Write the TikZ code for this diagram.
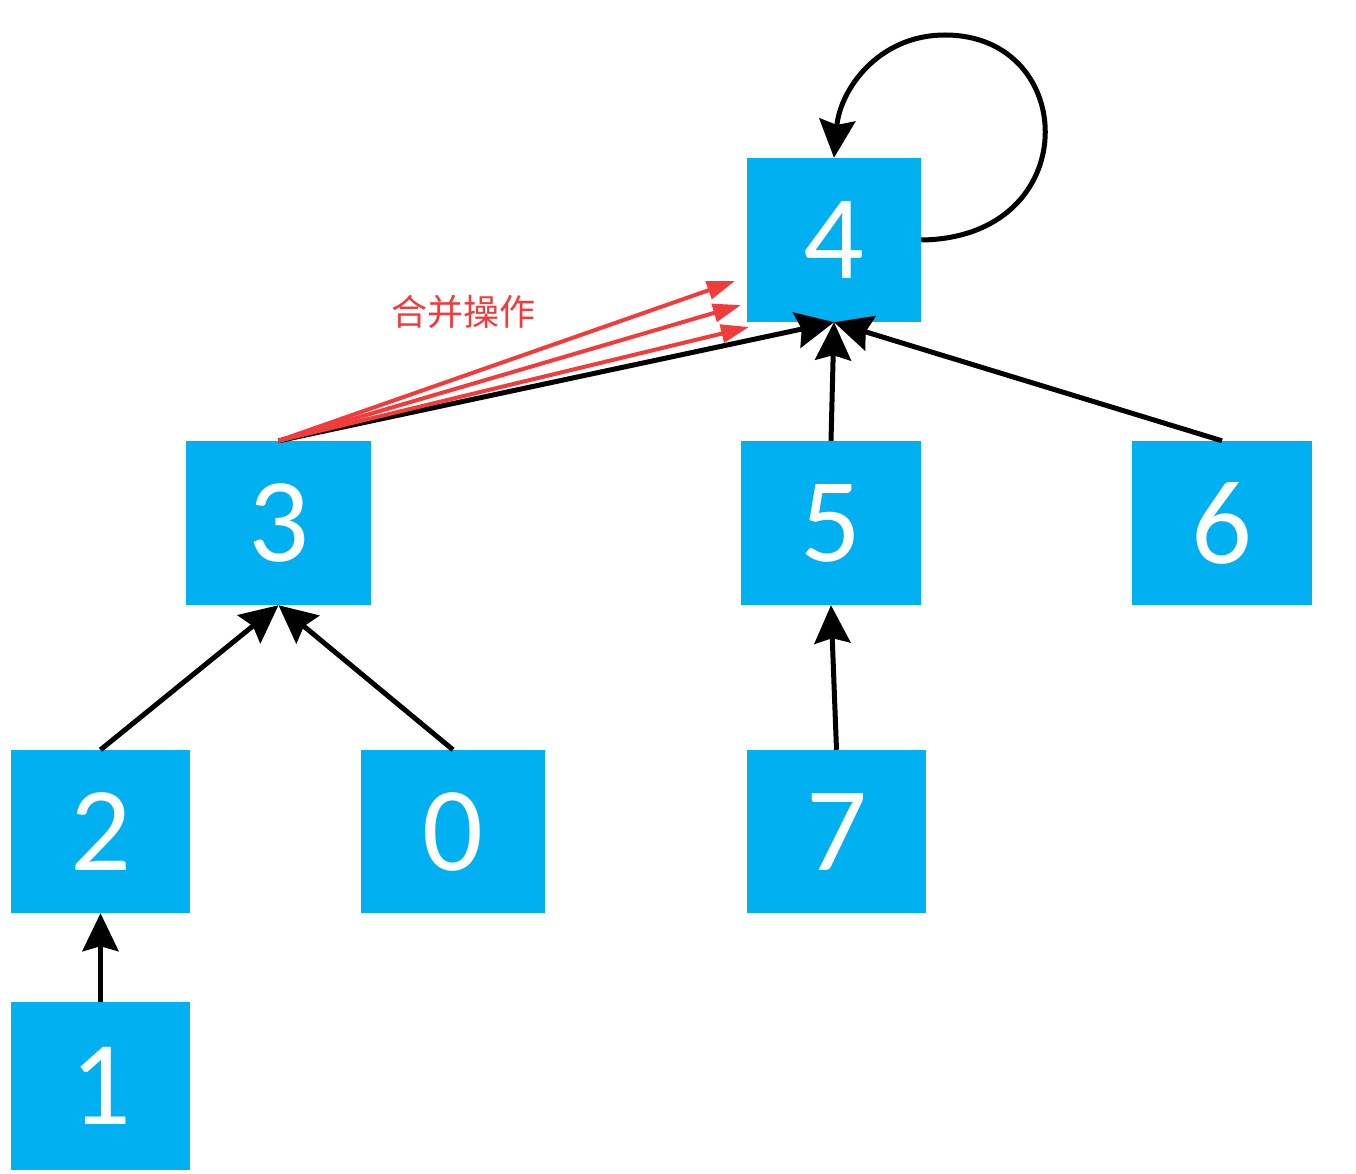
\documentclass[tikz,border=0pt]{standalone}
\usepackage{fontspec}
\setmainfont{Carlito}
\newfontfamily\cjk{Noto Sans CJK SC}
\usetikzlibrary{arrows.meta}
\definecolor{boxblue}{HTML}{00B0F0}
\definecolor{mergered}{HTML}{F23C3C}

\begin{document}
\begin{tikzpicture}[x=1pt,y=-1pt,
  vbox/.style={fill=boxblue, text=white, inner sep=0pt,
    minimum width=180pt, minimum height=164pt,
    font=\fontsize{120}{120}\selectfont},
  link/.style={line width=5pt, -{Stealth[length=38pt,width=36pt,inset=5pt]}},
  merge/.style={mergered, line width=4pt, -{Triangle[length=28pt,width=18pt]}}]

\useasboundingbox (0,0) rectangle (1356,1174);

% union-find forest
\node[vbox, minimum width=174pt] (n4) at (834,240) {4};
\node[vbox, minimum width=185pt] (n3) at (278.5,523) {3};
\node[vbox] (n5) at (831,523) {5};
\node[vbox] (n6) at (1222,523) {6};
\node[vbox, minimum width=179pt, minimum height=163pt] (n2) at (100.5,831.5) {2};
\node[vbox, minimum width=184pt, minimum height=163pt] (n0) at (453,831.5) {0};
\node[vbox, minimum width=179pt, minimum height=163pt] (n7) at (836.5,831.5) {7};
\node[vbox, minimum width=179pt, minimum height=168pt] (n1) at (100.5,1086) {1};

% parent links
\draw[link] (n3.north) -- (n4.south);
\draw[link] (n5.north) -- (n4.south);
\draw[link] (n6.north) -- (n4.south);
\draw[link] (n2.north) -- (n3.south);
\draw[link] (n0.north) -- (n3.south);
\draw[link] (n7.north) -- (n5.south);
\draw[link] (n1.north) -- (n2.south);

% the root points to itself
\draw[link] (n4.east) .. controls (1085,238) and (1080,35) .. (945,35)
  .. controls (878,35) and (840,90) .. (n4.north);

% merge operation
\coordinate (m1) at (735,281);
\coordinate (m2) at (741,305);
\coordinate (m3) at (749,327);
\draw[merge] (n3.north) -- (m1);
\draw[merge] (n3.north) -- (m2);
\draw[merge] (n3.north) -- (m3);
\node[text=mergered, font=\cjk\fontsize{36}{36}\selectfont] (mlabel) at (463,312) {合并操作};
\end{tikzpicture}
\end{document}
